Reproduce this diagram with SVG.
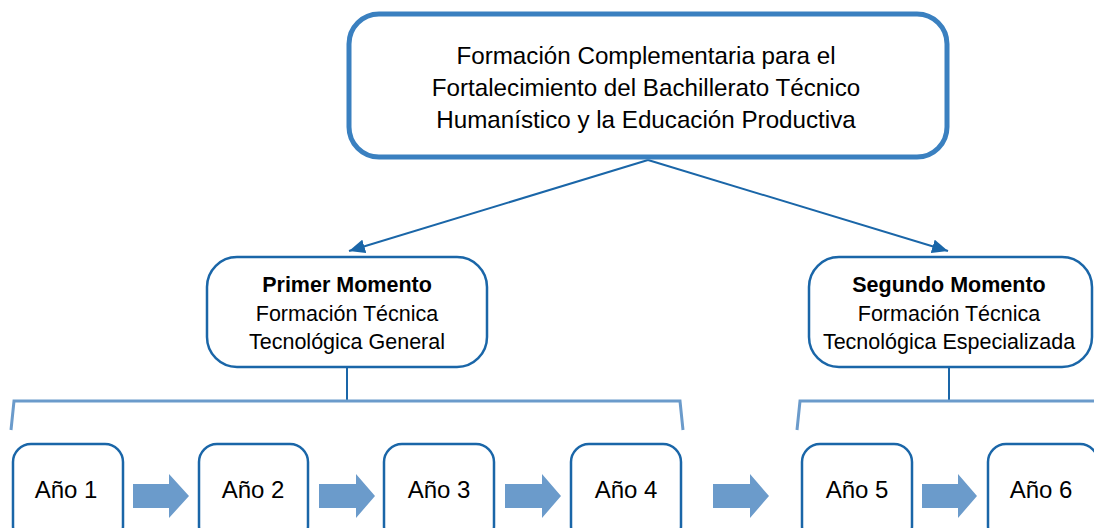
<svg xmlns="http://www.w3.org/2000/svg" width="1094" height="528" viewBox="0 0 1094 528">
<style>
.t{font-family:"Liberation Sans",Arial,sans-serif;fill:#000;text-anchor:middle}
.top{font-size:24.2px}
.mid{font-size:21.5px}
.b{font-weight:bold}
.yr{font-size:24px}
.box{fill:#fff;stroke:#1a66a8;stroke-width:2.5}
.topbox{fill:#fff;stroke:#3a80c0;stroke-width:5}
.conn{fill:none;stroke:#1a66a8;stroke-width:2}
.brk{fill:none;stroke:#6b9bcb;stroke-width:3}
.blk{fill:#6b9bcb}
</style>
<defs>
<marker id="ah" markerUnits="userSpaceOnUse" markerWidth="18" markerHeight="14" refX="16" refY="7" orient="auto">
<path d="M0,0 L16,7 L0,14 Z" fill="#1a66a8"/>
</marker>
</defs>
<g id="connectors">
<path class="conn" d="M648,160 L349,251" marker-end="url(#ah)"/>
<path class="conn" d="M648,160 L948,251" marker-end="url(#ah)"/>
<path class="conn" d="M347,367 L347,401"/>
<path class="conn" d="M949,367 L949,401"/>
<path class="brk" d="M11,430 L14,401 L680,401 L683,430"/>
<path class="brk" d="M797,430 L800,401 L1096,401"/>
<path class="blk" d="M133,484 H169 V474 L189,496 L169,518 V508 H133 Z"/>
<path class="blk" d="M319,484 H356 V474 L375,496 L356,518 V508 H319 Z"/>
<path class="blk" d="M505,484 H542 V474 L561,496 L542,518 V508 H505 Z"/>
<path class="blk" d="M713,484 H750 V474 L769,496 L750,518 V508 H713 Z"/>
<path class="blk" d="M922,484 H958 V474 L977,496 L958,518 V508 H922 Z"/>
</g>
<g id="top">
<rect class="topbox" x="349" y="14" width="598" height="143" rx="30"/>
<text class="t top" x="646" y="64">Formación Complementaria para el</text>
<text class="t top" x="646" y="96">Fortalecimiento del Bachillerato Técnico</text>
<text class="t top" x="646" y="128">Humanístico y la Educación Productiva</text>
</g>
<g id="primer">
<rect class="box" x="207" y="257" width="280" height="110" rx="30"/>
<text class="t mid b" x="347" y="292">Primer Momento</text>
<text class="t mid" x="347" y="321">Formación Técnica</text>
<text class="t mid" x="347" y="349">Tecnológica General</text>
</g>
<g id="segundo">
<rect class="box" x="809" y="257" width="283" height="110" rx="30"/>
<text class="t mid b" x="949" y="292">Segundo Momento</text>
<text class="t mid" x="949" y="321">Formación Técnica</text>
<text class="t mid" x="949" y="349">Tecnológica Especializada</text>
</g>
<g id="anio1">
<rect class="box" x="13" y="444" width="110" height="100" rx="18"/>
<text class="t yr" x="66" y="498">Año 1</text>
</g>
<g id="anio2">
<rect class="box" x="199" y="444" width="109" height="100" rx="18"/>
<text class="t yr" x="253" y="498">Año 2</text>
</g>
<g id="anio3">
<rect class="box" x="384" y="444" width="110" height="100" rx="18"/>
<text class="t yr" x="439" y="498">Año 3</text>
</g>
<g id="anio4">
<rect class="box" x="571" y="444" width="110" height="100" rx="18"/>
<text class="t yr" x="626" y="498">Año 4</text>
</g>
<g id="anio5">
<rect class="box" x="802" y="444" width="110" height="100" rx="18"/>
<text class="t yr" x="857" y="498">Año 5</text>
</g>
<g id="anio6">
<rect class="box" x="988" y="444" width="110" height="100" rx="18"/>
<text class="t yr" x="1041" y="498">Año 6</text>
</g>
</svg>
